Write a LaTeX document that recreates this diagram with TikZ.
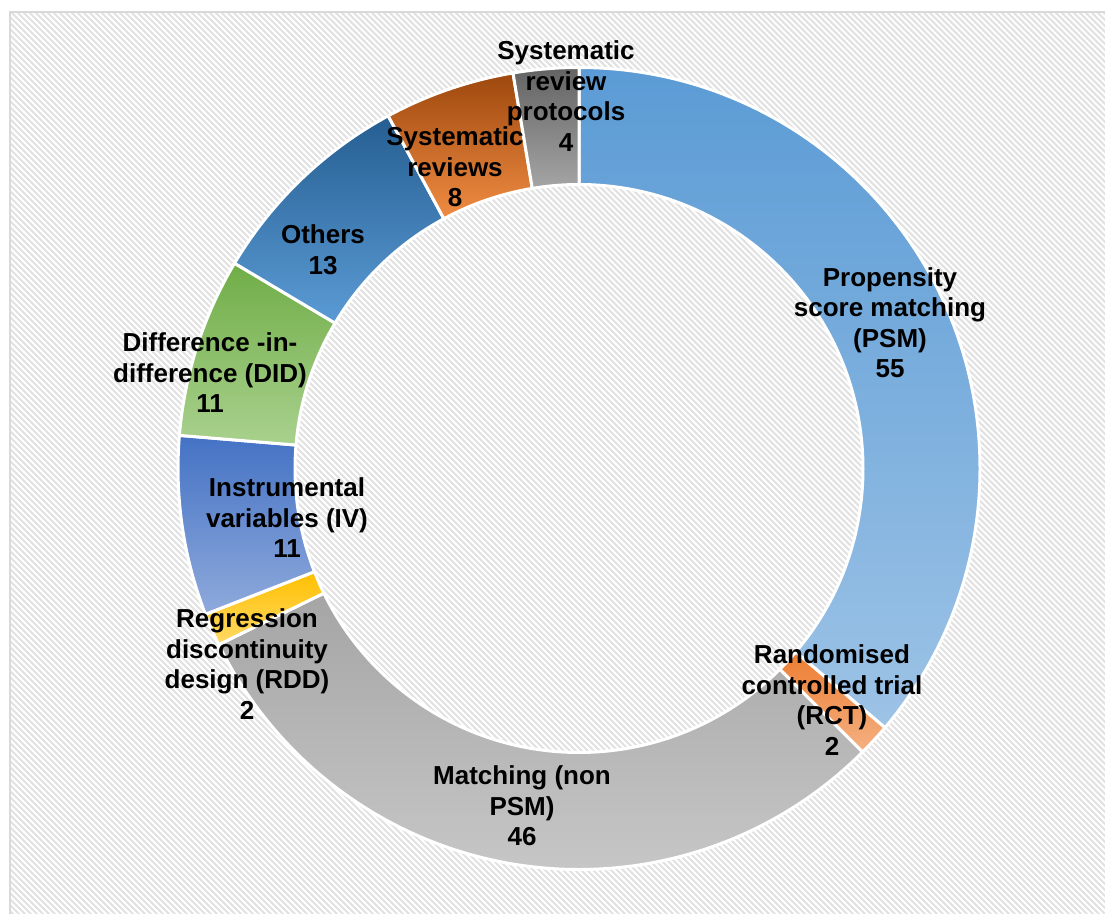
\documentclass[tikz,border=0pt]{standalone}
\usepackage{fontspec}
\setmainfont{Liberation Sans}
\begin{document}
\begin{tikzpicture}[x=1pt,y=1pt,
  hatch/.style={draw={rgb,255:red,226;green,226;blue,226},line width=2.1pt},
  frame/.style={draw={rgb,255:red,217;green,217;blue,217},line width=2pt},
  lbl/.style={font=\bfseries\fontsize{26}{30.5}\selectfont,align=center,inner sep=0pt,text=black}]
\useasboundingbox (0,0) rectangle (1105,913);
\fill[white] (0,0) rectangle (1105,913);
\begin{scope}
\clip (10,-5) rectangle (1110,901);
\foreach \c in {0,6,...,2040} \draw[hatch] (\c-920,920) -- (\c+10,-10);
\end{scope}
\draw[frame] (1120,901) -- (10,901) -- (10,-10);
\definecolor{psmA}{HTML}{5B9BD5}\definecolor{psmB}{HTML}{9DC3E6}
\definecolor{rctA}{HTML}{ED7D31}\definecolor{rctB}{HTML}{F4B183}
\definecolor{matA}{HTML}{A5A5A5}\definecolor{matB}{HTML}{C9C9C9}
\definecolor{rddA}{HTML}{FFC000}\definecolor{rddB}{HTML}{FFD966}
\definecolor{ivA}{HTML}{4472C4}\definecolor{ivB}{HTML}{8FAADC}
\definecolor{didA}{HTML}{70AD47}\definecolor{didB}{HTML}{A9D18E}
\definecolor{othA}{HTML}{255E91}\definecolor{othB}{HTML}{5B9BD5}
\definecolor{srA}{HTML}{9E480E}\definecolor{srB}{HTML}{F08C42}
\definecolor{srpA}{HTML}{636363}\definecolor{srpB}{HTML}{A5A5A5}
\newcommand{\ringseg}[4]{%
  \path[top color=#3,bottom color=#4,draw=white,line width=3pt,line join=miter]
    (#1:401) arc[start angle=#1,end angle=#2,radius=401]
    -- (#2:284) arc[start angle=#2,end angle=#1,radius=284] -- cycle;}
\begin{scope}[shift={(579,444.5)}]
\ringseg{90}{-40.263}{psmA}{psmB}
\ringseg{-40.263}{-45}{rctA}{rctB}
\ringseg{-45}{-153.947}{matA}{matB}
\ringseg{-153.947}{-158.684}{rddA}{rddB}
\ringseg{-158.684}{-184.737}{ivA}{ivB}
\ringseg{-184.737}{-210.789}{didA}{didB}
\ringseg{-210.789}{-241.579}{othA}{othB}
\ringseg{-241.579}{-260.526}{srA}{srB}
\ringseg{-260.526}{-270}{srpA}{srpB}
\end{scope}
\node[lbl] (srp) at (566,817) {Systematic\\review\\protocols\\4};
\node[lbl] (sr) at (455,746) {Systematic\\reviews\\8};
\node[lbl] (oth) at (323,663.5) {Others\\13};
\node[lbl] (did) at (210,540) {Difference -in-\\difference (DID)\\11};
\node[lbl] (iv) at (287,395) {Instrumental\\variables (IV)\\11};
\node[lbl] (rdd) at (247,249) {Regression\\discontinuity\\design (RDD)\\2};
\node[lbl] (mat) at (522,107) {Matching (non\\PSM)\\46};
\node[lbl] (rct) at (832,213) {Randomised\\controlled trial\\(RCT)\\2};
\node[lbl] (psm) at (890,590.5) {Propensity\\score matching\\(PSM)\\55};
\end{tikzpicture}
\end{document}
